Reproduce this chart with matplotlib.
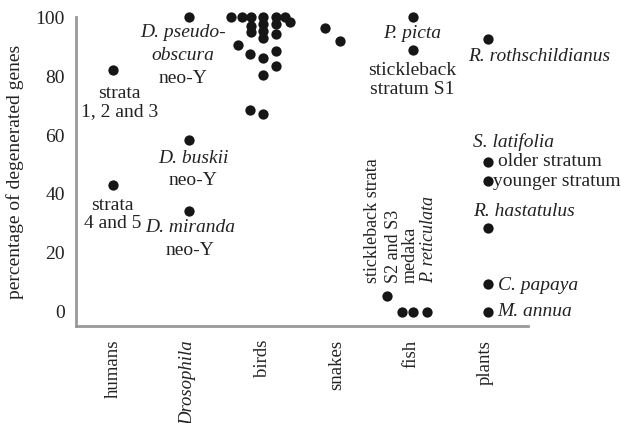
import matplotlib
matplotlib.use("Agg")
import matplotlib.pyplot as plt

plt.rcParams['font.family'] = ['Liberation Serif', 'DejaVu Serif']

# categories on the x axis
categories = ["humans", "Drosophila", "birds", "snakes", "fish", "plants"]

# percentage of degenerated genes per group, with horizontal spread
humans_pct = [82.0, 43.1]
humans_dx = [0.0, 0.0]

drosophila_pct = [100.0, 58.3, 34.2]
drosophila_dx = [0.02, 0.02, 0.02]

birds_pct = [100, 100, 100, 97, 95, 100, 97.5, 95.3, 100, 97.5, 100, 98.4,
             90.4, 87.6, 92.9, 94.2, 86.1, 88.4, 83.3, 80.3, 68.6, 67.2]
birds_dx = [-0.42, -0.27, -0.15, -0.15, -0.15, 0.01, 0.01, 0.01, 0.19, 0.19, 0.31, 0.38,
            -0.33, -0.16, 0.01, 0.19, 0.01, 0.19, 0.19, 0.01, -0.16, 0.01]

snakes_pct = [96.3, 91.8]
snakes_dx = [-0.15, 0.04]

fish_pct = [100.0, 88.7, 5.5, 0.0, 0.0, 0.0]
fish_dx = [0.03, 0.03, -0.32, -0.12, 0.03, 0.21]

plants_pct = [92.5, 51.0, 44.4, 28.5, 9.5, 0.0]
plants_dx = [0.03, 0.03, 0.03, 0.03, 0.03, 0.03]

groups = [(humans_pct, humans_dx), (drosophila_pct, drosophila_dx),
          (birds_pct, birds_dx), (snakes_pct, snakes_dx),
          (fish_pct, fish_dx), (plants_pct, plants_dx)]

fig = plt.figure(figsize=(6.21, 4.23), dpi=100)
ax = fig.add_axes([0.1224, 0.2293, 0.7279, 0.7305])

for i, (pct, dx) in enumerate(groups):
    xs = [i + 1 + d for d in dx]
    ax.scatter(xs, pct, s=55, color="#161616", zorder=3, clip_on=False,
               linewidths=0)

fs = 14


def label(x, y, s, italic=False, size=fs, **kw):
    kw.setdefault("ha", "center")
    kw.setdefault("va", "center")
    ax.text(x, y, s, fontsize=size, style="italic" if italic else "normal",
            color="#222222", linespacing=1.05, **kw)


# humans
label(1.08, 71.0, "strata\n1, 2 and 3")
label(0.99, 33.0, "strata\n4 and 5")
# Drosophila
label(1.94, 94.6, "D. pseudo-", italic=True)
label(1.94, 87.1, "obscura", italic=True)
label(1.94, 79.3, "neo-Y")
label(2.07, 52.2, "D. buskii", italic=True)
label(2.07, 44.7, "neo-Y")
label(2.03, 28.6, "D. miranda", italic=True)
label(2.03, 21.0, "neo-Y")
# fish
label(5.01, 94.5, "P. picta", italic=True)
label(5.01, 82.0, "stickleback")
label(5.01, 75.3, "stratum S1")
label(4.48, 9.8, "stickleback strata", size=13, rotation=90, va="bottom")
label(4.76, 9.8, "S2 and S3", size=13, rotation=90, va="bottom")
label(4.99, 9.8, "medaka", size=13, rotation=90, va="bottom")
label(5.23, 9.8, "P. reticulata", italic=True, size=13, rotation=90, va="bottom")
# plants
label(6.72, 86.5, "R. rothschildianus", italic=True)
label(6.38, 57.7, "S. latifolia", italic=True)
label(6.17, 51.0, "older stratum", ha="left")
label(6.10, 44.2, "younger stratum", ha="left")
label(6.52, 34.0, "R. hastatulus", italic=True)
label(6.17, 9.15, "C. papaya", italic=True, ha="left")
label(6.16, 0.0, "M. annua", italic=True, ha="left")

ax.set_xlim(0.5, 6.57)
ax.set_ylim(-4.75, 100)
ax.set_yticks([0, 20, 40, 60, 80, 100])
ax.set_xticks(range(1, len(categories) + 1))
ax.set_xticklabels(categories, rotation=90, fontsize=13.5, color="#222222")
for t in ax.get_xticklabels():
    if t.get_text() == "Drosophila":
        t.set_style("italic")
ax.tick_params(axis="both", length=0, labelcolor="#222222")
ax.tick_params(axis="y", labelsize=fs, pad=8)
ax.tick_params(axis="x", pad=10)
ax.set_ylabel("percentage of degenerated genes", fontsize=fs, color="#222222",
              labelpad=8)

for side in ["top", "right"]:
    ax.spines[side].set_visible(False)
for side in ["left", "bottom"]:
    ax.spines[side].set_color("#999999")
    ax.spines[side].set_linewidth(2)

fig.savefig("out.png", dpi=100)
